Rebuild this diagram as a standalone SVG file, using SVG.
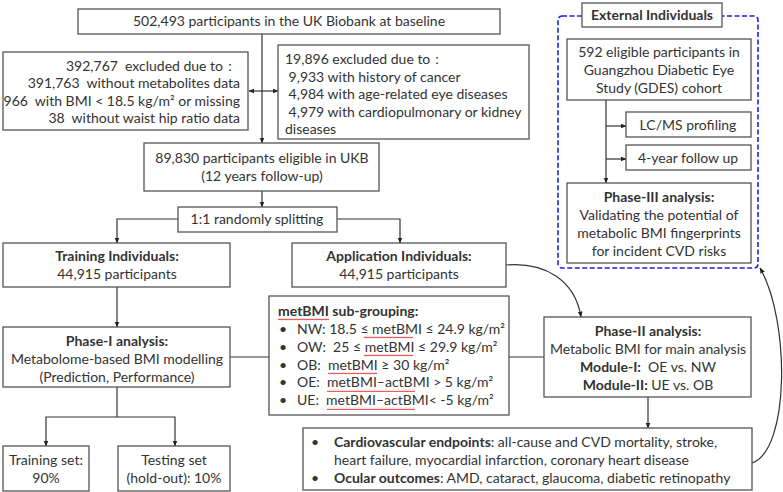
<svg xmlns="http://www.w3.org/2000/svg" width="783" height="492" viewBox="0 0 783 492">
<defs>
<marker id="ah" viewBox="0 0 10 10" refX="9" refY="5" markerWidth="6" markerHeight="6" orient="auto-start-reverse" markerUnits="userSpaceOnUse">
<path d="M0,1 L10,5 L0,9 z" fill="#222"/>
</marker>
<pattern id="wavy" x="0" y="0" width="4" height="3" patternUnits="userSpaceOnUse">
<path d="M0,2.2 L1,0.8 L2,2.2 L3,0.8 L4,2.2" fill="none" stroke="#e03535" stroke-width="0.8"/>
</pattern>
</defs>
<style>
text{font-family:Lato,"Open Sans","Liberation Sans",sans-serif;font-size:14px;fill:#333;white-space:pre}
.b{font-weight:bold}
.box{fill:#fff;stroke:#555;stroke-width:1.3}
.ln{fill:none;stroke:#333;stroke-width:1.2}
.arr{fill:none;stroke:#333;stroke-width:1.2;marker-end:url(#ah)}
.c{text-anchor:middle}
.r{text-anchor:end}
.wv{fill:url(#wavy)}
</style>
<rect width="783" height="492" fill="#fff"/>

<g id="connectors">
<path class="arr" d="M262,34 V143"/>
<path class="ln" d="M249,91 H278" marker-start="url(#ah)" marker-end="url(#ah)"/>
<path class="arr" d="M262,191 V207"/>
<path class="arr" d="M178,219 H117 V243"/>
<path class="arr" d="M337,219 H400 V243"/>
<path class="arr" d="M117,287 V327"/>
<path class="ln" d="M117,387 V417"/>
<path class="arr" d="M117,417 H46 V446"/>
<path class="arr" d="M117,417 H175 V446"/>
<path class="ln" d="M230,357 H269"/>
<path class="ln" d="M509,357 H544"/>
<path class="arr" d="M506,265 C545,262 575,280 581,317"/>
<path class="arr" d="M648,397 V428"/>
<path class="arr" d="M752,463 C790,450 790,320 760,268"/>
<path class="arr" d="M606,100 V183"/>
<path class="arr" d="M606,126 H626"/>
<path class="arr" d="M606,159 H626"/>
</g>

<g id="external-frame">
<rect x="558" y="16" width="200" height="252" rx="4" fill="none" stroke="#1f1fe0" stroke-width="1.6" stroke-dasharray="5,2.5"/>
</g>

<g id="n-baseline">
<rect class="box" x="78" y="9" width="422" height="25"/>
<text class="c" x="289" y="26">502,493 participants in the UK Biobank at baseline</text>
</g>

<g id="n-excl1">
<rect class="box" x="3" y="52" width="245" height="78"/>
<text class="r" x="237" y="71">392,767  excluded due to：</text>
<text class="r" x="240" y="88">391,763  without metabolites data</text>
<text class="r" x="240" y="106">966  with BMI &lt; 18.5 kg/m² or missing</text>
<text class="r" x="240" y="123">38  without waist hip ratio data</text>
</g>

<g id="n-excl2">
<rect class="box" x="278" y="45" width="251" height="94"/>
<text x="285" y="64">19,896 excluded due to：</text>
<text x="285" y="82"> 9,933 with history of cancer</text>
<text x="285" y="99"> 4,984 with age-related eye diseases</text>
<text x="285" y="117"> 4,979 with cardiopulmonary or kidney</text>
<text x="285" y="134">diseases</text>
</g>

<g id="n-eligible">
<rect class="box" x="144" y="143" width="235" height="48"/>
<text class="c" x="262" y="163">89,830 participants eligible in UKB</text>
<text class="c" x="262" y="181">(12 years follow-up)</text>
</g>

<g id="n-split">
<rect class="box" x="178" y="207" width="159" height="25"/>
<text class="c" x="257" y="224">1:1 randomly splitting</text>
</g>

<g id="n-training">
<rect class="box" x="3" y="243" width="227" height="44"/>
<text class="c b" x="117" y="261">Training Individuals:</text>
<text class="c" x="117" y="279">44,915 participants</text>
</g>

<g id="n-application">
<rect class="box" x="292" y="243" width="214" height="44"/>
<text class="c b" x="399" y="261">Application Individuals:</text>
<text class="c" x="399" y="279">44,915 participants</text>
</g>

<g id="n-phase1">
<rect class="box" x="3" y="327" width="227" height="60"/>
<text class="c b" x="117" y="346">Phase-I analysis:</text>
<text class="c" x="117" y="364">Metabolome-based BMI modelling</text>
<text class="c" x="117" y="382">(Prediction, Performance)</text>
</g>

<g id="n-trainset">
<rect class="box" x="3" y="446" width="86" height="45"/>
<text class="c" x="46" y="465">Training set:</text>
<text class="c" x="46" y="483">90%</text>
</g>

<g id="n-testset">
<rect class="box" x="118" y="446" width="112" height="45"/>
<text class="c" x="174" y="465">Testing set</text>
<text class="c" x="174" y="483">(hold-out): 10%</text>
</g>

<g id="n-subgroup">
<rect class="box" x="269" y="296" width="240" height="119"/>
<text class="b" x="278" y="316">metBMI sub-grouping:</text>
<text x="279" y="334">•</text><text x="297" y="334">NW: 18.5 ≤ metBMI ≤ 24.9 kg/m²</text>
<text x="279" y="352">•</text><text x="297" y="352">OW:  25 ≤ metBMI ≤ 29.9 kg/m²</text>
<text x="279" y="370">•</text><text x="297" y="370">OB:  metBMI ≥ 30 kg/m²</text>
<text x="279" y="387">•</text><text x="297" y="387">OE:  metBMI–actBMI &gt; 5 kg/m²</text>
<text x="279" y="405">•</text><text x="297" y="405">UE:  metBMI–actBMI&lt; -5 kg/m²</text>
<rect class="wv" x="278" y="318" width="51" height="3"/>
<rect class="wv" x="364" y="336" width="49" height="3"/>
<rect class="wv" x="364" y="354" width="49" height="3"/>
<rect class="wv" x="328" y="372" width="49" height="3"/>
<rect class="wv" x="327" y="389" width="88" height="3"/>
<rect class="wv" x="327" y="407" width="88" height="3"/>
</g>

<g id="n-phase2">
<rect class="box" x="544" y="317" width="207" height="80"/>
<text class="c b" x="648" y="336">Phase-II analysis:</text>
<text class="c" x="648" y="354">Metabolic BMI for main analysis</text>
<text class="c" x="648" y="372"><tspan class="b">Module-I:</tspan>  OE vs. NW</text>
<text class="c" x="648" y="390"><tspan class="b">Module-II:</tspan> UE vs. OB</text>
</g>

<g id="n-outcomes">
<rect class="box" x="303" y="428" width="449" height="62"/>
<text x="311" y="447">•</text>
<text x="334" y="447"><tspan class="b">Cardiovascular endpoints</tspan>: all-cause and CVD mortality, stroke,</text>
<text x="334" y="465">heart failure, myocardial infarction, coronary heart disease</text>
<text x="311" y="483">•</text>
<text x="334" y="483"><tspan class="b">Ocular outcomes</tspan>: AMD, cataract, glaucoma, diabetic retinopathy</text>
</g>

<g id="n-external-label">
<rect class="box" x="582" y="3" width="140" height="24"/>
<text class="c b" x="652" y="20">External Individuals</text>
</g>

<g id="n-gdes">
<rect class="box" x="567" y="39" width="184" height="61"/>
<text class="c" x="659" y="57">592 eligible participants in</text>
<text class="c" x="659" y="75">Guangzhou Diabetic Eye</text>
<text class="c" x="659" y="93">Study (GDES) cohort</text>
</g>

<g id="n-lcms">
<rect class="box" x="626" y="112" width="125" height="25"/>
<text class="c" x="688" y="130">LC/MS profiling</text>
</g>

<g id="n-followup">
<rect class="box" x="626" y="145" width="125" height="25"/>
<text class="c" x="688" y="163">4-year follow up</text>
</g>

<g id="n-phase3">
<rect class="box" x="567" y="183" width="184" height="80"/>
<text class="c b" x="659" y="202">Phase-III analysis:</text>
<text class="c" x="659" y="220">Validating the potential of</text>
<text class="c" x="659" y="238">metabolic BMI fingerprints</text>
<text class="c" x="659" y="256">for incident CVD risks</text>
</g>
</svg>
